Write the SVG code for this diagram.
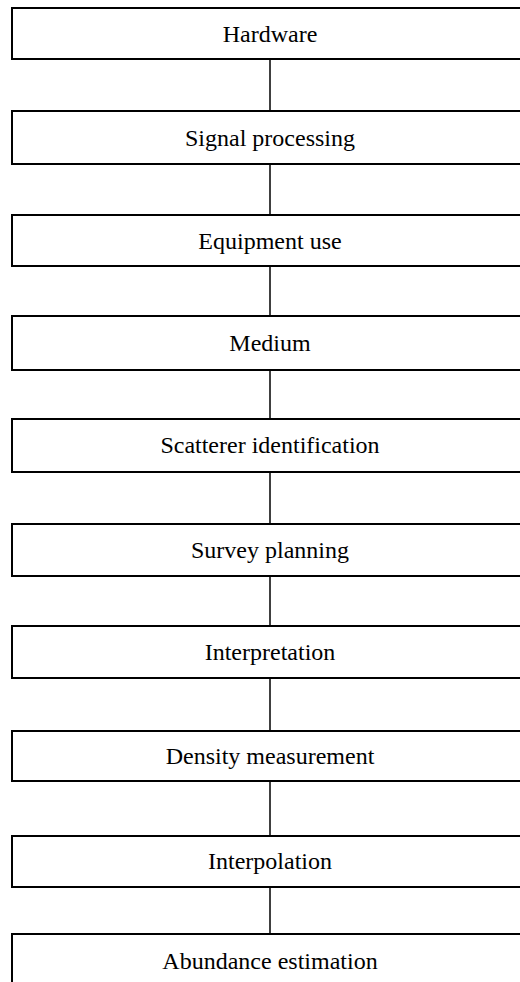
<svg xmlns="http://www.w3.org/2000/svg" width="520" height="982" viewBox="0 0 520 982">
  <style>
    .box { fill: #ffffff; stroke: #000000; stroke-width: 2; }
    .lbl { font-family: "Liberation Serif", "Times New Roman", serif; font-size: 24px; fill: #000000; text-anchor: middle; }
    .link { stroke: #000000; stroke-width: 1.5; fill: none; }
  </style>
  <rect width="520" height="982" fill="#ffffff"/>
  <g id="connectors">
    <line class="link" x1="270" y1="59" x2="270" y2="111"/>
    <line class="link" x1="270" y1="164" x2="270" y2="215"/>
    <line class="link" x1="270" y1="266" x2="270" y2="316"/>
    <line class="link" x1="270" y1="370" x2="270" y2="419"/>
    <line class="link" x1="270" y1="472" x2="270" y2="524"/>
    <line class="link" x1="270" y1="576" x2="270" y2="626"/>
    <line class="link" x1="270" y1="678" x2="270" y2="731"/>
    <line class="link" x1="270" y1="781" x2="270" y2="836"/>
    <line class="link" x1="270" y1="887" x2="270" y2="934"/>
  </g>
  <g id="hardware">
    <rect class="box" x="12" y="8" width="520" height="51"/>
    <text class="lbl" x="270" y="42">Hardware</text>
  </g>
  <g id="signal-processing">
    <rect class="box" x="12" y="111" width="520" height="53"/>
    <text class="lbl" x="270" y="146">Signal processing</text>
  </g>
  <g id="equipment-use">
    <rect class="box" x="12" y="215" width="520" height="51"/>
    <text class="lbl" x="270" y="249">Equipment use</text>
  </g>
  <g id="medium">
    <rect class="box" x="12" y="316" width="520" height="54"/>
    <text class="lbl" x="270" y="351">Medium</text>
  </g>
  <g id="scatterer-identification">
    <rect class="box" x="12" y="419" width="520" height="53"/>
    <text class="lbl" x="270" y="453">Scatterer identification</text>
  </g>
  <g id="survey-planning">
    <rect class="box" x="12" y="524" width="520" height="52"/>
    <text class="lbl" x="270" y="558">Survey planning</text>
  </g>
  <g id="interpretation">
    <rect class="box" x="12" y="626" width="520" height="52"/>
    <text class="lbl" x="270" y="660">Interpretation</text>
  </g>
  <g id="density-measurement">
    <rect class="box" x="12" y="731" width="520" height="50"/>
    <text class="lbl" x="270" y="764">Density measurement</text>
  </g>
  <g id="interpolation">
    <rect class="box" x="12" y="836" width="520" height="51"/>
    <text class="lbl" x="270" y="869">Interpolation</text>
  </g>
  <g id="abundance-estimation">
    <rect class="box" x="12" y="934" width="520" height="60"/>
    <text class="lbl" x="270" y="969">Abundance estimation</text>
  </g>
</svg>
